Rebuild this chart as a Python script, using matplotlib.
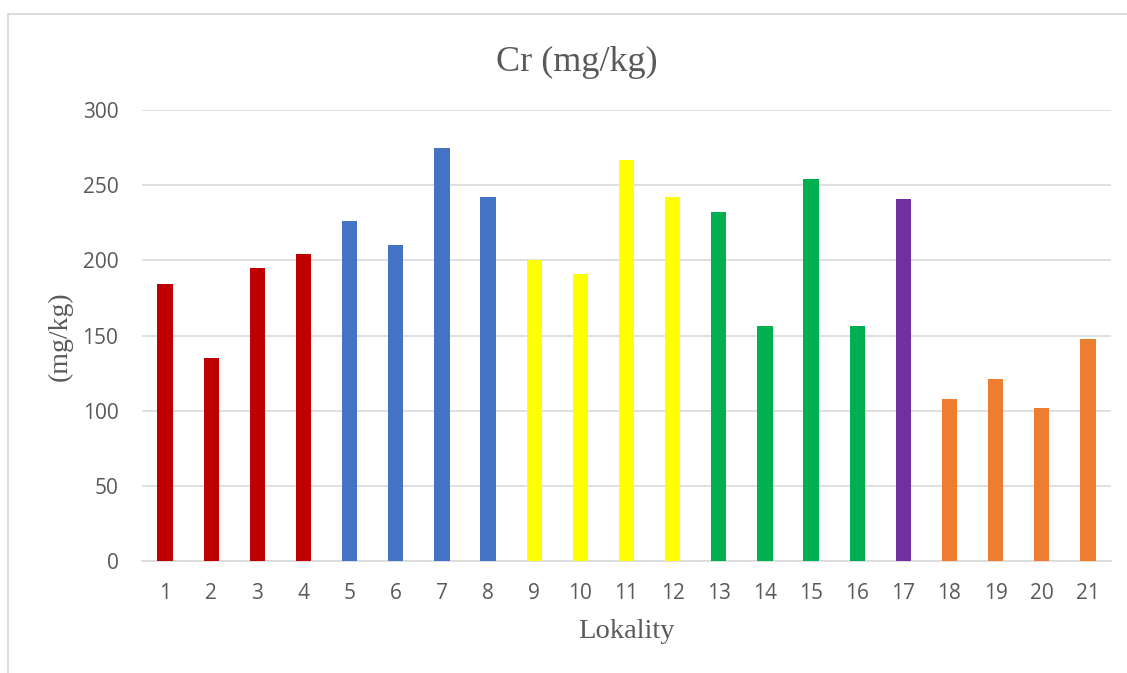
import matplotlib
matplotlib.use("Agg")
import matplotlib.pyplot as plt
from matplotlib.lines import Line2D

# Chromium content per locality
localities = [str(i) for i in range(1, 22)]
cr_values = [184, 135, 195, 204, 226, 210, 275, 242, 200, 191, 267,
             242, 232, 156, 254, 156, 241, 108, 121, 102, 148]
bar_colors = (["#C00000"] * 4 + ["#4472C4"] * 4 + ["#FFFF00"] * 4 +
              ["#00B050"] * 4 + ["#7030A0"] * 1 + ["#ED7D31"] * 4)
y_ticks = [0, 50, 100, 150, 200, 250, 300]

title_text = "Cr (mg/kg)"
x_label = "Lokality"
y_label = "(mg/kg)"

W, H = 1127, 673
fig = plt.figure(figsize=(W / 100, H / 100), dpi=100)
ax = fig.add_axes([142 / W, 1 - 561 / H, (1111 - 142) / W, (561 - 110) / H])

positions = list(range(len(localities)))
ax.bar(positions, cr_values, width=0.33, color=bar_colors, zorder=3)

ax.set_xlim(-0.5, len(localities) - 0.5)
ax.set_ylim(0, 300)
ax.set_yticks(y_ticks)
ax.set_xticks(positions)
ax.set_xticklabels(localities)

grid_color = "#D9D9D9"
text_color = "#595959"
ax.grid(axis="y", color=grid_color, linewidth=1.2, zorder=0)
ax.set_axisbelow(True)
for side in ["top", "right", "left"]:
    ax.spines[side].set_visible(False)
ax.spines["bottom"].set_color(grid_color)
ax.spines["bottom"].set_linewidth(1.2)
ax.tick_params(axis="both", length=0, labelcolor=text_color,
               labelsize=15)
ax.tick_params(axis="x", pad=16)
ax.tick_params(axis="y", pad=17)
for lbl in ax.get_xticklabels() + ax.get_yticklabels():
    lbl.set_fontfamily("Open Sans")

serif = "Liberation Serif"
fig.text(577 / W, 1 - 62 / H, title_text, ha="center", va="center",
         fontsize=26, family=serif, color=text_color)
fig.text(626 / W, 1 - 632 / H, x_label, ha="center", va="center",
         fontsize=20.5, family=serif, color=text_color)
fig.text(60 / W, 1 - 336 / H, y_label, ha="center", va="center",
         rotation=90, fontsize=20, family=serif, color=text_color)

# Chart frame (top and left edges)
fig.add_artist(Line2D([8 / W, 8 / W], [0, 1 - 13.5 / H],
                      transform=fig.transFigure, color=grid_color, lw=1.3))
fig.add_artist(Line2D([8 / W, 1], [1 - 13.5 / H, 1 - 13.5 / H],
                      transform=fig.transFigure, color=grid_color, lw=1.3))

fig.savefig("out.png", dpi=100, facecolor="white")
